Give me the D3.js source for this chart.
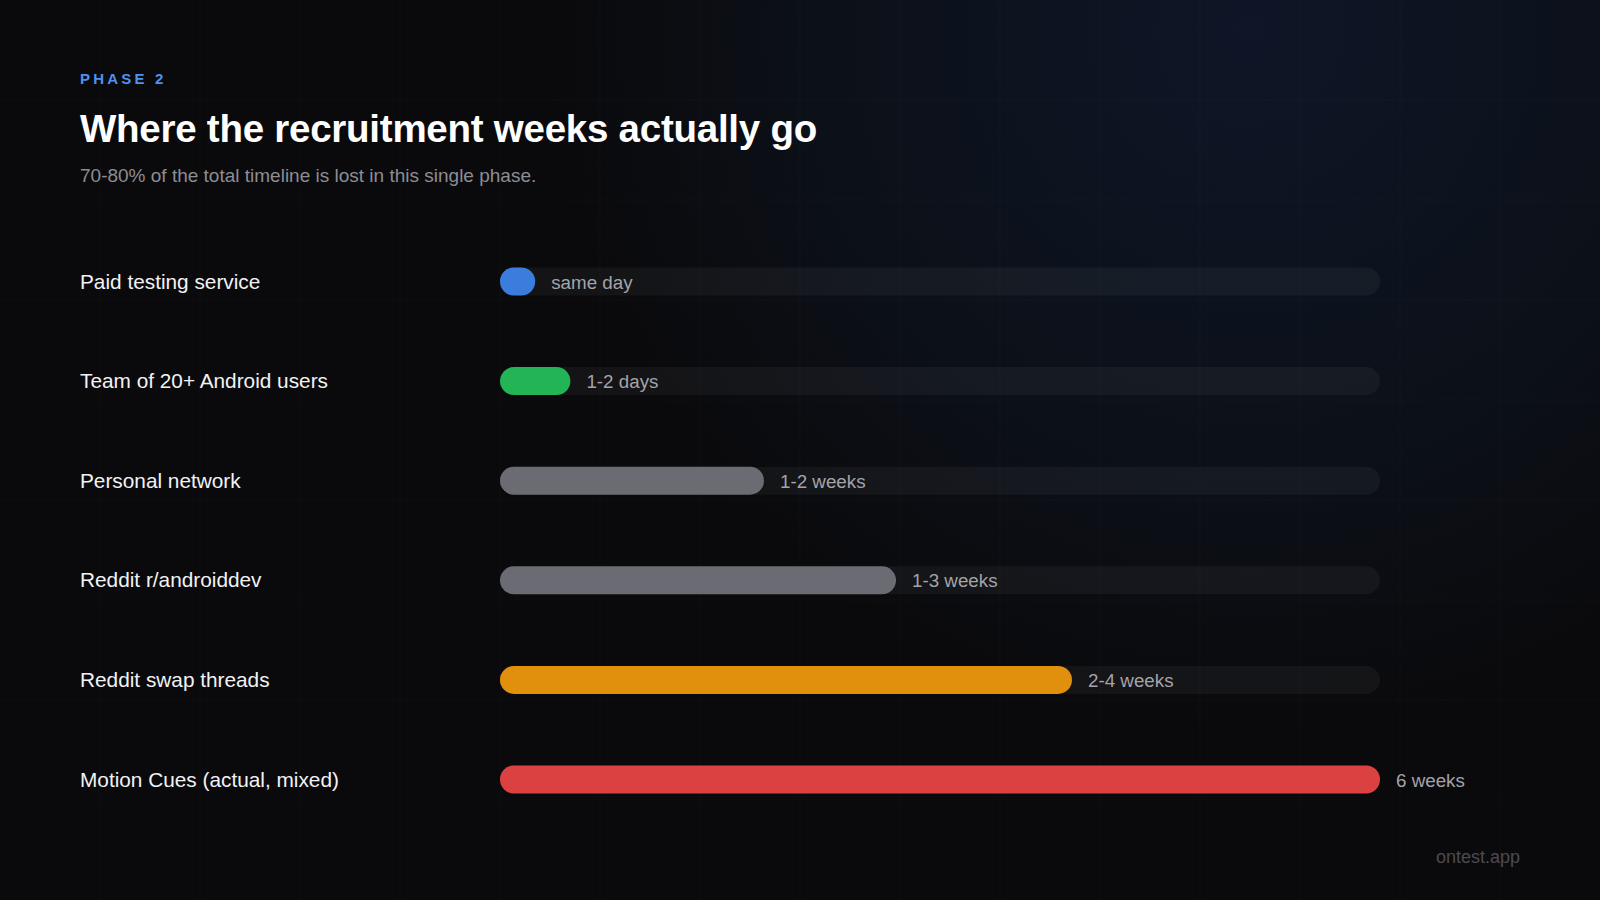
<!DOCTYPE html>
<html>
<head>
<meta charset="utf-8">
<script src="https://cdn.jsdelivr.net/npm/d3@7"></script>
<style>
  html, body { margin: 0; padding: 0; background: #0a0a0c; }
  svg { display: block; }
  text { font-family: "Liberation Sans", Arial, Helvetica, sans-serif; }
</style>
</head>
<body>
<div id="chart"></div>
<script>
const width = 1600;
const height = 900;

// recruitment channels, top to bottom
const channels = [
  "Paid testing service",
  "Team of 20+ Android users",
  "Personal network",
  "Reddit r/androiddev",
  "Reddit swap threads",
  "Motion Cues (actual, mixed)"
];
// bar length as share of the longest timeline (%)
const shares = [4, 8, 30, 45, 65, 100];
const durations = ["same day", "1-2 days", "1-2 weeks", "1-3 weeks", "2-4 weeks", "6 weeks"];
const barColors = ["#3b7ddd", "#22b455", "#6b6b74", "#6b6b74", "#e0900c", "#dc4141"];

const svg = d3.select("#chart")
  .append("svg")
  .attr("width", width)
  .attr("height", height);

// background glow + faint grid
const defs = svg.append("defs");
const glow = defs.append("radialGradient")
  .attr("id", "glow")
  .attr("gradientUnits", "userSpaceOnUse")
  .attr("cx", 1250).attr("cy", 30).attr("r", 700);
glow.append("stop").attr("offset", "0%").attr("stop-color", "#0e1627");
glow.append("stop").attr("offset", "55%").attr("stop-color", "#0c111a");
glow.append("stop").attr("offset", "100%").attr("stop-color", "#0a0a0c");

svg.append("rect").attr("width", width).attr("height", height).attr("fill", "#0a0a0c");
svg.append("rect").attr("width", width).attr("height", height).attr("fill", "url(#glow)");

const grid = svg.append("g").attr("stroke", "#ffffff").attr("stroke-opacity", 0.022);
grid.selectAll("line.v")
  .data(d3.range(100, width, 100))
  .enter().append("line")
  .attr("x1", d => d).attr("x2", d => d)
  .attr("y1", 0).attr("y2", height);
grid.selectAll("line.h")
  .data(d3.range(100, height, 100))
  .enter().append("line")
  .attr("y1", d => d).attr("y2", d => d)
  .attr("x1", 0).attr("x2", width);

// header
svg.append("text")
  .attr("x", 80).attr("y", 84)
  .attr("fill", "#4d92ee")
  .style("font-size", "15px")
  .style("font-weight", 700)
  .style("letter-spacing", "3.2px")
  .text("PHASE 2");

svg.append("text")
  .attr("x", 80).attr("y", 141.5)
  .attr("fill", "#ffffff")
  .style("font-size", "38.5px")
  .style("font-weight", 700)
  .style("letter-spacing", "-0.25px")
  .text("Where the recruitment weeks actually go");

svg.append("text")
  .attr("x", 80).attr("y", 181.5)
  .attr("fill", "#8d8d94")
  .style("font-size", "19px")
  .text("70-80% of the total timeline is lost in this single phase.");

// bars
const x = d3.scaleLinear().domain([0, 100]).range([500, 1380]);
const y = d3.scalePoint().domain(channels).range([281.5, 779.5]);
const barH = 28;

const rows = svg.append("g")
  .selectAll("g.row")
  .data(channels)
  .enter()
  .append("g")
  .attr("class", "row")
  .attr("transform", d => `translate(0,${y(d)})`);

rows.append("text")
  .attr("x", 80)
  .attr("dy", "0.34em")
  .attr("fill", "#f2f2f4")
  .style("font-size", "20.8px")
  .text(d => d);

rows.append("rect")
  .attr("x", x(0))
  .attr("y", -barH / 2)
  .attr("width", x(100) - x(0))
  .attr("height", barH)
  .attr("rx", barH / 2)
  .attr("fill", "#ffffff")
  .attr("fill-opacity", 0.045);

rows.append("rect")
  .attr("x", x(0))
  .attr("y", -barH / 2)
  .attr("width", (d, i) => x(shares[i]) - x(0))
  .attr("height", barH)
  .attr("rx", barH / 2)
  .attr("fill", (d, i) => barColors[i]);

rows.append("text")
  .attr("x", (d, i) => x(shares[i]) + 16)
  .attr("dy", "0.38em")
  .attr("fill", "#a3a3aa")
  .style("font-size", "18.8px")
  .text((d, i) => durations[i]);

// footer
svg.append("text")
  .attr("x", 1520).attr("y", 862.5)
  .attr("text-anchor", "end")
  .attr("fill", "#4b4b51")
  .style("font-size", "18px")
  .text("ontest.app");
</script>
</body>
</html>
